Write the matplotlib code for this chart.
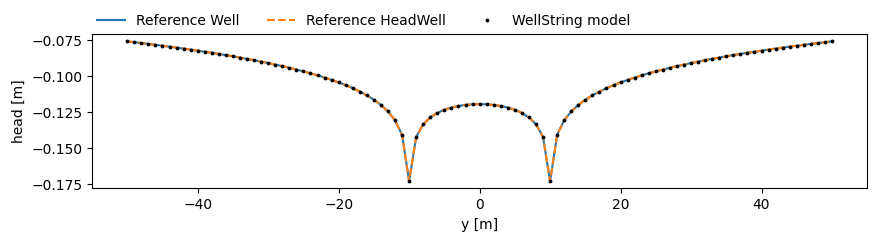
import matplotlib
matplotlib.use("Agg")
import matplotlib.pyplot as plt

# distance along the section [m]
y = list(range(-50, 51))

# head, symmetric about y = 0 (wells at y = -10 and y = 10)
head_right = [
    -0.11939, -0.11953, -0.11995, -0.12069, -0.12178, -0.12333, -0.12551, -0.12861, -0.13338, -0.14213,
    -0.17290, -0.14076, -0.13063, -0.12448, -0.11995, -0.11634, -0.11331, -0.11068, -0.10836, -0.10626,
    -0.10436, -0.10260, -0.10098, -0.09946, -0.09804, -0.09669, -0.09543, -0.09422, -0.09307, -0.09198,
    -0.09093, -0.08992, -0.08896, -0.08802, -0.08713, -0.08626, -0.08542, -0.08461, -0.08383, -0.08306,
    -0.08232, -0.08160, -0.08090, -0.08022, -0.07956, -0.07891, -0.07827, -0.07766, -0.07705, -0.07646,
    -0.07589,
]
head_well = head_right[:0:-1] + head_right
head_headwell = list(head_well)
head_wellstring = list(head_well)

fig = plt.figure(figsize=(8.76, 2.42), dpi=100)
ax = fig.add_axes([0.105, 0.222, 0.885, 0.636])

ax.plot(y, head_well, color="C0", label="Reference Well")
ax.plot(y, head_headwell, color="C1", ls="--", label="Reference HeadWell")
ax.plot(y, head_wellstring, color="k", ls="none", marker=".", ms=3.5, label="WellString model")

ax.set_xlabel("y [m]")
ax.set_ylabel("head [m]")
ax.legend(loc="lower left", bbox_to_anchor=(-0.01, 0.96), ncol=3, frameon=False)

fig.savefig("out.png", dpi=100)
